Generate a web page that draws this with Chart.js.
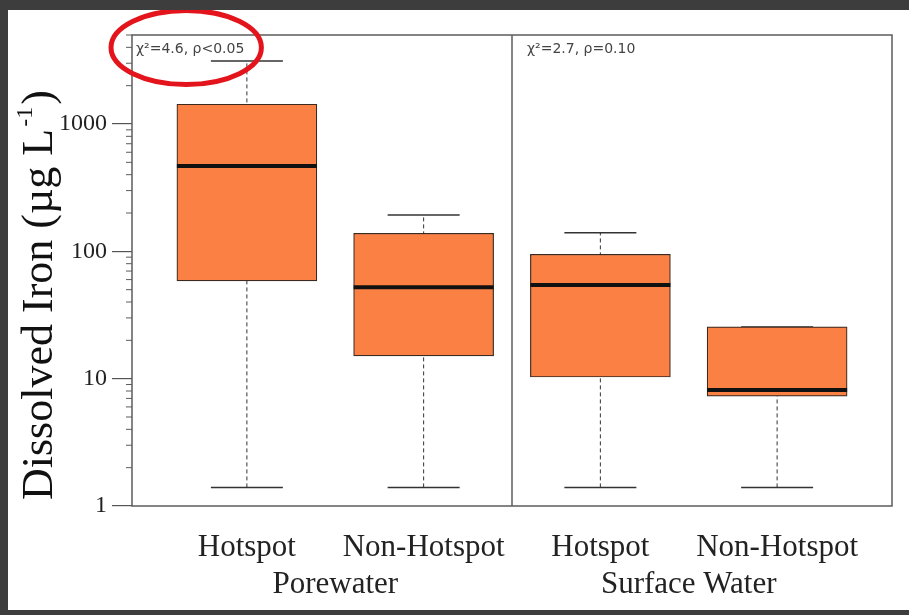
<!DOCTYPE html>
<html>
<head>
<meta charset="utf-8">
<script src="https://cdn.jsdelivr.net/npm/chart.js@4.4.0/dist/chart.umd.min.js"></script>
<style>
  html, body { margin: 0; padding: 0; background: #3d3d3d; }
  body { width: 909px; height: 615px; position: relative; overflow: hidden; }
  #frame { position: absolute; left: 8px; top: 10px; width: 901px; height: 600px; background: #fff; }
  canvas { display: block; }
</style>
</head>
<body>
<div id="frame"><canvas id="chart" width="901" height="600"></canvas></div>
<script>
// box plot data (log scale)
const categories = ['Hotspot', 'Non-Hotspot', 'Hotspot', 'Non-Hotspot'];
const groups = ['Porewater', 'Surface Water'];
const stats = ['χ²=4.6, ρ<0.05', 'χ²=2.7, ρ=0.10'];
const whiskerMin = [1.4, 1.4, 1.4, 1.4];
const q1 = [58.5, 15.1, 10.3, 7.3];
const median = [468, 52.2, 54.4, 8.15];
const q3 = [1430, 138.6, 94.8, 25.5];
const whiskerMax = [3120, 193, 140, 25.5];
const yTickLabels = [1, 10, 100, 1000];
const yMax = 5000;
const yTitle = ['Dissolved Iron (µg L', '-1', ')'];

const serif = '"Liberation Serif", "Times New Roman", serif';

// log axis ticks: 1..9 in each decade
const yTicks = [];
yTickLabels.forEach(d => {
  for (let k = 1; k <= 9; k++) {
    if (k * d <= yMax) yTicks.push(k * d);
  }
});

const whiskerPts = [];
const capPts = [];
categories.forEach((c, i) => {
  whiskerPts.push({x: i + 1, y: whiskerMin[i]}, {x: i + 1, y: whiskerMax[i]}, {x: i + 1, y: null});
  capPts.push({x: i + 1, y: whiskerMin[i]}, {x: i + 1, y: whiskerMax[i]});
});

const noPad = s => { s.paddingLeft = 0; s.paddingRight = 0; s.paddingTop = 0; s.paddingBottom = 0; };

const framePlugin = {
  id: 'frame',
  afterDatasetsDraw(chart) {
    const {ctx, chartArea: a, scales: {x, y}} = chart;
    ctx.save();
    ctx.strokeStyle = '#5c5c5c';
    ctx.lineWidth = 1.5;
    ctx.strokeRect(a.left, a.top, a.right - a.left, a.bottom - a.top);
    // panel divider between the two groups
    const dx = x.getPixelForValue(2.5);
    ctx.beginPath();
    ctx.moveTo(dx, a.top);
    ctx.lineTo(dx, a.bottom);
    ctx.stroke();
    // minor ticks
    ctx.lineWidth = 1;
    y.ticks.forEach(t => {
      if (yTickLabels.includes(t.value)) return;
      const py = y.getPixelForValue(t.value);
      ctx.beginPath();
      ctx.moveTo(a.left - 6, py);
      ctx.lineTo(a.left, py);
      ctx.stroke();
    });
    ctx.restore();
  },
  afterDraw(chart) {
    const {ctx, chartArea: a, scales: {x}} = chart;
    ctx.save();
    // y axis title with a real superscript
    ctx.translate(30, a.bottom - 6);
    ctx.rotate(-Math.PI / 2);
    ctx.fillStyle = '#111';
    ctx.textAlign = 'left';
    ctx.textBaseline = 'alphabetic';
    ctx.font = '44px ' + serif;
    ctx.fillText(yTitle[0], 0, 14);
    let w = ctx.measureText(yTitle[0]).width + 2;
    ctx.font = '24px ' + serif;
    ctx.fillText(yTitle[1], w, -6);
    w += ctx.measureText(yTitle[1]).width + 2;
    ctx.font = '44px ' + serif;
    ctx.fillText(yTitle[2], w, 14);
    ctx.restore();

    ctx.save();
    const ty = a.top + 14;
    const xs = [a.left + 4, x.getPixelForValue(2.5) + 15];
    ctx.font = '14px "DejaVu Sans", sans-serif';
    ctx.fillStyle = '#444';
    ctx.textBaseline = 'middle';
    ctx.textAlign = 'left';
    stats.forEach((s, i) => ctx.fillText(s, xs[i], ty));
    // red highlight ring round the first statistic
    const tw = ctx.measureText(stats[0]).width;
    ctx.strokeStyle = '#e3141c';
    ctx.lineWidth = 5;
    ctx.beginPath();
    ctx.ellipse(xs[0] + tw / 2 - 4, ty - 1.5, tw / 2 + 21, 37, 0, 0, Math.PI * 2);
    ctx.stroke();
    ctx.restore();
  }
};

new Chart(document.getElementById('chart'), {
  type: 'bar',
  data: {
    datasets: [
      {
        type: 'line',
        data: categories.map((c, i) => ({x: i + 1, y: median[i]})),
        showLine: false,
        pointStyle: 'line',
        pointRadius: 70,
        pointBorderWidth: 4,
        pointBorderColor: '#111',
        order: 0
      },
      {
        data: categories.map((c, i) => ({x: i + 1, y: [q1[i], q3[i]]})),
        backgroundColor: '#fa8043',
        borderColor: '#3a2a22',
        borderWidth: 1.2,
        borderSkipped: false,
        barThickness: 140,
        order: 1
      },
      {
        type: 'line',
        data: capPts,
        showLine: false,
        pointStyle: 'line',
        pointRadius: 36,
        pointBorderWidth: 1.5,
        pointBorderColor: '#333',
        order: 2
      },
      {
        type: 'line',
        data: whiskerPts,
        borderColor: '#333',
        borderWidth: 1,
        borderDash: [4, 3],
        pointRadius: 0,
        spanGaps: false,
        order: 3
      }
    ]
  },
  options: {
    responsive: false,
    animation: false,
    devicePixelRatio: 1,
    layout: { autoPadding: false, padding: { top: 25, right: 17, bottom: 0, left: 0 } },
    plugins: {
      legend: { display: false },
      tooltip: { enabled: false }
    },
    scales: {
      x: {
        type: 'linear',
        position: 'bottom',
        weight: 0,
        offset: false,
        min: 0.35,
        max: 4.65,
        afterBuildTicks: s => { s.ticks = categories.map((c, i) => ({value: i + 1})); },
        afterFit: s => { s.height = 60; noPad(s); },
        ticks: {
          autoSkip: false,
          maxRotation: 0,
          padding: 23,
          font: { family: serif, size: 31 },
          color: '#222',
          callback: (v, i) => categories[i]
        },
        grid: { display: false, drawTicks: false },
        border: { display: false }
      },
      x2: {
        type: 'linear',
        position: 'bottom',
        weight: 1,
        offset: false,
        min: 0.35,
        max: 4.65,
        afterBuildTicks: s => { s.ticks = groups.map((g, i) => ({value: 2 * i + 1.5})); },
        afterFit: s => { s.height = 44; noPad(s); },
        ticks: {
          autoSkip: false,
          maxRotation: 0,
          padding: 0,
          font: { family: serif, size: 31 },
          color: '#222',
          callback: (v, i) => groups[i]
        },
        grid: { display: false, drawTicks: false },
        border: { display: false }
      },
      y: {
        type: 'logarithmic',
        min: 1,
        max: yMax,
        afterBuildTicks: s => { s.ticks = yTicks.map(v => ({value: v, major: yTickLabels.includes(v)})); },
        afterFit: s => { s.width = 124; noPad(s); },
        ticks: {
          autoSkip: false,
          padding: 5,
          font: { family: serif, size: 24 },
          color: '#222',
          callback: v => yTickLabels.includes(v) ? String(v) : ''
        },
        grid: {
          drawOnChartArea: false,
          tickLength: 20,
          lineWidth: 1.2,
          tickColor: c => (c.tick && yTickLabels.includes(c.tick.value)) ? '#555' : 'rgba(0,0,0,0)'
        },
        border: { display: false },
        title: { display: false }
      }
    }
  },
  plugins: [framePlugin]
});
</script>
</body>
</html>
